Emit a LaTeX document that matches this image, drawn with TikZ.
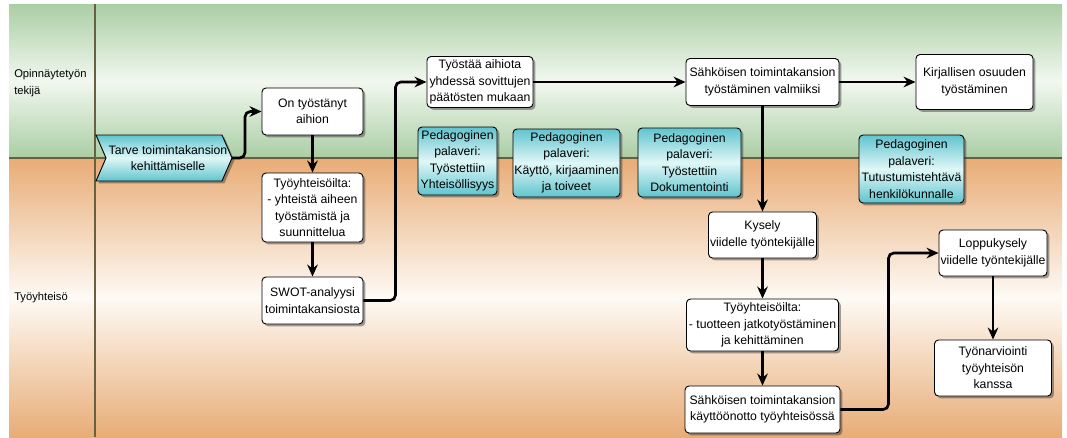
\documentclass[tikz,border=0pt]{standalone}
\usepackage{fontspec}
\setmainfont{Liberation Sans}
\usetikzlibrary{arrows.meta,shadows,calc}
\definecolor{greenlane}{RGB}{170,206,164}
\definecolor{greenmid}{RGB}{242,248,240}
\definecolor{orangelane}{RGB}{232,172,118}
\definecolor{orangemid}{RGB}{254,250,245}
\definecolor{cyandark}{RGB}{96,196,206}
\definecolor{cyanlight}{RGB}{224,247,247}
\definecolor{divider}{RGB}{105,95,65}
\tikzset{
  wh/.style 2 args={minimum width=#1*0.75pt, minimum height=#2*0.75pt},
  txt/.style={font=\fontsize{9.2}{12.4}\selectfont},
  shad/.style={drop shadow={shadow xshift=1.8pt, shadow yshift=-1.8pt, opacity=0.45, fill=black!80}},
  box/.style={txt, draw=black, line width=0.7pt, fill=white, rounded corners=3pt, align=center, inner sep=1pt, shad},
  note/.style={box, top color=cyandark, bottom color=cyandark, middle color=cyanlight},
  flow/.style={line width=2pt, rounded corners=4pt, -{Stealth[length=9pt,width=8pt,inset=3pt]}},
  lanelabel/.style={font=\fontsize{8.4}{12.4}\selectfont, anchor=west, align=left, inner sep=0pt},
}
\begin{document}
\begin{tikzpicture}[x=0.75pt,y=-0.75pt]
\useasboundingbox (0,0) rectangle (1067,437);
% lanes
\shade[top color=greenlane, bottom color=greenlane, middle color=greenmid] (9,4) rectangle (1062,158);
\shade[top color=orangelane, bottom color=orangelane, middle color=orangemid] (9,158) rectangle (1062,437);
\draw[divider, line width=0.8pt] (9,158) -- (1062,158);
\draw[divider, line width=0.8pt] (95,4) -- (95,437);
\node[lanelabel] (lane1) at (14,83) {Opinnäytetyön\\tekijä};
\node[lanelabel] (lane2) at (14,298) {Työyhteisö};
% start chevron
\shadedraw[line width=0.7pt, top color=cyandark, bottom color=cyandark, middle color=cyanlight, shad]
  (96,135) -- (222,135) -- (232,158) -- (222,181) -- (96,181) -- (106,158) -- cycle;
\node[txt, align=center, inner sep=0pt] (tarve) at (168,158) {Tarve toimintakansion\\kehittämiselle};
\coordinate (tarvetip) at (232,158);
% process boxes
\node[box, wh={101}{47}] (b2) at (312.5,111.5) {On työstänyt\\aihion};
\node[box, wh={101}{69}] (b3) at (312.5,207.5) {Työyhteisöilta:\\- yhteistä aiheen\\työstämistä ja\\suunnittelua};
\node[box, wh={101}{47}] (b4) at (312.5,300.5) {SWOT-analyysi\\toimintakansiosta};
\node[box, wh={106}{51}] (b5) at (480,82) {Työstää aihiota\\yhdessä sovittujen\\päätösten mukaan};
\node[box, wh={153}{47}] (b6) at (762.5,82) {Sähköisen toimintakansion\\työstäminen valmiiksi};
\node[box, wh={117}{55}] (b7) at (974.5,82) {Kirjallisen osuuden\\työstäminen};
\node[box, wh={108}{46}] (b8) at (762.5,235) {Kysely\\viidelle työntekijälle};
\node[box, wh={152}{52}] (b9) at (762.5,325) {Työyhteisöilta:\\- tuotteen jatkotyöstäminen\\ja kehittäminen};
\node[box, wh={155}{47}] (b10) at (762.5,409.5) {Sähköisen toimintakansion\\käyttöönotto työyhteisössä};
\node[box, wh={108}{46}] (b11) at (993,253) {Loppukysely\\viidelle työntekijälle};
\node[box, wh={117}{56}] (b12) at (993,368) {Työnarviointi\\työyhteisön\\kanssa};
% meeting notes
\node[note, wh={79}{68}] (p1) at (457.5,161) {Pedagoginen\\palaveri:\\Työstettiin\\Yhteisöllisyys};
\node[note, wh={107}{68}] (p2) at (566.5,163) {Pedagoginen\\palaveri:\\Käyttö, kirjaaminen\\ja toiveet};
\node[note, wh={103}{69}] (p3) at (689.5,162.5) {Pedagoginen\\palaveri:\\Työstettiin\\Dokumentointi};
\node[note, wh={105}{68}] (p4) at (911.5,169) {Pedagoginen\\palaveri:\\Tutustumistehtävä\\henkilökunnalle};
% connectors
\draw[flow] (tarvetip) -- ++(13,0) |- (b2.west);
\draw[flow] (b2.south) -- (b3.north);
\draw[flow] (b3.south) -- (b4.north);
\draw[flow] (b4.east) -- ++(32,0) |- (b5.west);
\draw[flow] (b5.east) -- (b6.west);
\draw[flow] (b6.east) -- (b7.west);
\draw[flow] (b6.south) -- (b8.north);
\draw[flow] (b8.south) -- (b9.north);
\draw[flow] (b9.south) -- (b10.north);
\draw[flow] (b10.east) -- ++(48,0) |- (b11.west);
\draw[flow] (b11.south) -- (b12.north);
\end{tikzpicture}
\end{document}
